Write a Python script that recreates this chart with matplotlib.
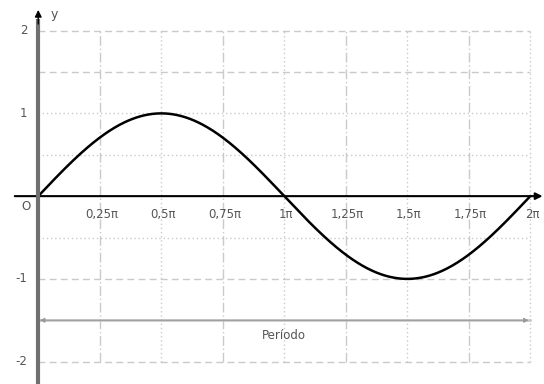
import numpy as np
import matplotlib
matplotlib.use("Agg")
import matplotlib.pyplot as plt

# x positions in multiples of pi and their labels
tick_mult = [0.25, 0.5, 0.75, 1.0, 1.25, 1.5, 1.75, 2.0]
tick_labels = ["0,25π", "0,5π", "0,75π", "1π", "1,25π", "1,5π", "1,75π", "2π"]
y_ticks = [2, 1, -1, -2]
y_tick_labels = ["2", "1", "-1", "-2"]

# horizontal grid levels and their styles
h_levels = [2.0, 1.5, 1.0, 0.5, -0.5, -1.0, -2.0]
h_styles = ["dashed", "dashed", "dotted", "dotted", "dotted", "dashed", "dashed"]

period_level = -1.5
period_label = "Período"

x = np.linspace(0, 2 * np.pi, 600)
y = np.sin(x)

fig = plt.figure(figsize=(5.44, 3.84), dpi=100)
ax = fig.add_axes([0, 0, 1, 1])
ax.set_xlim(-0.4885, 6.458)
ax.set_ylim(-2.27, 2.37)
ax.axis("off")

grid_col = "#cacaca"
dash = (0, (5, 3))
dot = (0, (1, 2))
dashdot = (0, (7, 2, 1, 2))

# vertical grid lines
for m in tick_mult:
    ls = dot if abs(m * 4 % 2) < 1e-9 else dashdot
    ax.plot([m * np.pi, m * np.pi], [-2.0, 2.0], color=grid_col, lw=1.0,
            linestyle=ls, zorder=1)

# horizontal grid lines
for lvl, st in zip(h_levels, h_styles):
    ls = dash if st == "dashed" else dot
    ax.plot([0, 2 * np.pi], [lvl, lvl], color=grid_col, lw=1.0,
            linestyle=ls, zorder=1)

# period arrow
ax.plot([0, 2 * np.pi], [period_level, period_level], color="#c4c4c4",
        lw=1.8, zorder=1)
ax.annotate("", xy=(0.02, period_level), xytext=(2 * np.pi - 0.02, period_level),
            arrowprops=dict(arrowstyle="<|-|>", color="#9a9a9a", lw=0.8,
                            mutation_scale=7, shrinkA=0, shrinkB=0),
            zorder=2)
ax.text(np.pi, period_level - 0.18, period_label, ha="center", va="center",
        fontsize=8.5, color="#555555")

# sine curve
ax.plot(x, y, color="black", lw=1.8, zorder=4, solid_capstyle="round")

# x axis with arrow
ax.annotate("", xy=(6.44, 0), xytext=(-0.3, 0),
            arrowprops=dict(arrowstyle="-|>", color="black", lw=1.5,
                            mutation_scale=10, shrinkA=0, shrinkB=0),
            zorder=5)
# y axis with arrow
ax.plot([0, 0], [-2.3, 2.12], color="#707070", lw=3.0, zorder=5)
ax.annotate("", xy=(0, 2.25), xytext=(0, 2.08),
            arrowprops=dict(arrowstyle="-|>", color="black", lw=1.0,
                            mutation_scale=10, shrinkA=0, shrinkB=0),
            zorder=6)
ax.text(0.21, 2.2, "y", ha="center", va="center", fontsize=9,
        color="#555555")

# tick labels
for m, lab in zip(tick_mult, tick_labels):
    ax.text(m * np.pi + 0.02, -0.22, lab, ha="center", va="center",
            fontsize=8.5, color="#555555")
for v, lab in zip(y_ticks, y_tick_labels):
    ax.text(-0.14, v, lab, ha="right", va="center", fontsize=8.5,
            color="#555555")
ax.text(-0.1, -0.13, "O", ha="right", va="center", fontsize=8.5,
        color="#555555")

fig.savefig("out.png", dpi=100)
